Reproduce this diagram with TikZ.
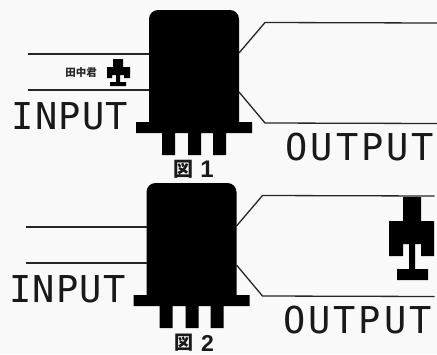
\documentclass[tikz,border=0pt]{standalone}
\usepackage{fontspec}
\setmonofont{DejaVu Sans Mono}
\newfontfamily\cjkfont{Noto Sans CJK JP}
\newfontfamily\labelfont{Liberation Sans}
\newfontfamily\inputfont[LetterSpace=3.5]{DejaVu Sans Mono}
\newfontfamily\outputfont[LetterSpace=8]{DejaVu Sans Mono}
\tikzset{
  pagebg/.style={fill=paper,draw=none},
  wire/.style={draw=black!85,line width=1.3pt},
  bigtext/.style={inner sep=0pt,anchor=base,text=black!90},
  captext/.style={inner sep=0pt,anchor=base,text=black!90},
  nametext/.style={inner sep=0pt,anchor=center,text=black!85,font=\cjkfont\bfseries\fontsize{10.5}{11}\selectfont}
}
\definecolor{paper}{HTML}{F9F9F9}
% relay: #1 x offset, #2 y offset, #3 name prefix
\newcommand{\relaybody}[3]{%
  \begin{scope}[shift={(#1,#2)}]
    \fill[black] (149,122) -- (149,21) [rounded corners=9pt] -- (149,10) -- (239,10) [rounded corners=0pt] -- (239,122) -- (252,122) -- (252,133) -- (226,133) -- (226,155) -- (213,155) -- (213,133) -- (201,133) -- (201,155) -- (188,155) -- (188,133) -- (175,133) -- (175,155) -- (162,155) -- (162,133) -- (136,133) -- (136,122) -- cycle;
    \coordinate (#3inA) at (149,54);
    \coordinate (#3inB) at (149,90);
    \coordinate (#3outA) at (239,53);
    \coordinate (#3outB) at (239,92);
    \coordinate (#3ltA) at (28,54);
    \coordinate (#3ltB) at (28,90);
    \coordinate (#3kA) at (265,22.5);
    \coordinate (#3kB) at (265,123);
    \coordinate (#3rtA) at (437,23);
    \coordinate (#3rtB) at (437,123.5);
    \node[bigtext,font=\inputfont\fontsize{37}{37}\selectfont] (#3input) at (70,129) {INPUT};
    \node[bigtext,font=\outputfont\fontsize{37}{37}\selectfont] (#3output) at (360,160) {OUTPUT};
    \draw[wire] (#3ltA) -- (#3inA);
    \draw[wire] (#3ltB) -- (#3inB);
    \draw[wire] (#3outA) -- (#3kA) -- (#3rtA);
    \draw[wire] (#3outB) -- (#3kB) -- (#3rtB);
  \end{scope}}
\begin{document}
\begin{tikzpicture}[x=1pt,y=-1pt]
\useasboundingbox (0,0) rectangle (437,354);
\fill[pagebg] (0,0) rectangle (437,354);
\relaybody{0}{0}{a}
\relaybody{-2.5}{173}{b}
% figure captions
\node[captext,font=\cjkfont\bfseries\fontsize{20}{20}\selectfont] (cap1box) at (183.5,176.5) {図};
\node[captext,font=\labelfont\bfseries\fontsize{24}{24}\selectfont] (cap1num) at (207,177.5) {1};
\node[captext,font=\cjkfont\bfseries\fontsize{19}{19}\selectfont] (cap2box) at (183.5,349.5) {図};
\node[captext,font=\labelfont\bfseries\fontsize{23}{23}\selectfont] (cap2num) at (207.5,351) {2};
% name label
\node[nametext] (name) at (81,73) {田中君};
% small figure
\fill[black] (113,59) -- (123,59) -- (123,67) -- (130,67) -- (130,78) -- (124,78) -- (124,75) -- (120,75) -- (120,82) -- (126,82) -- (126,86) -- (110,86) -- (110,82) -- (116,82) -- (116,75) -- (112,75) -- (112,78) -- (107,78) -- (107,67) -- (113,67) -- cycle;
% large figure
\fill[black] (403,197) -- (421,197) -- (421,221) -- (434,221) -- (434,256) -- (421,256) -- (421,244) -- (415,244) -- (415,269) -- (428,269) -- (428,280) -- (397,280) -- (397,269) -- (409,269) -- (409,244) -- (403,244) -- (403,256) -- (389,256) -- (389,221) -- (403,221) -- cycle;
\end{tikzpicture}
\end{document}
